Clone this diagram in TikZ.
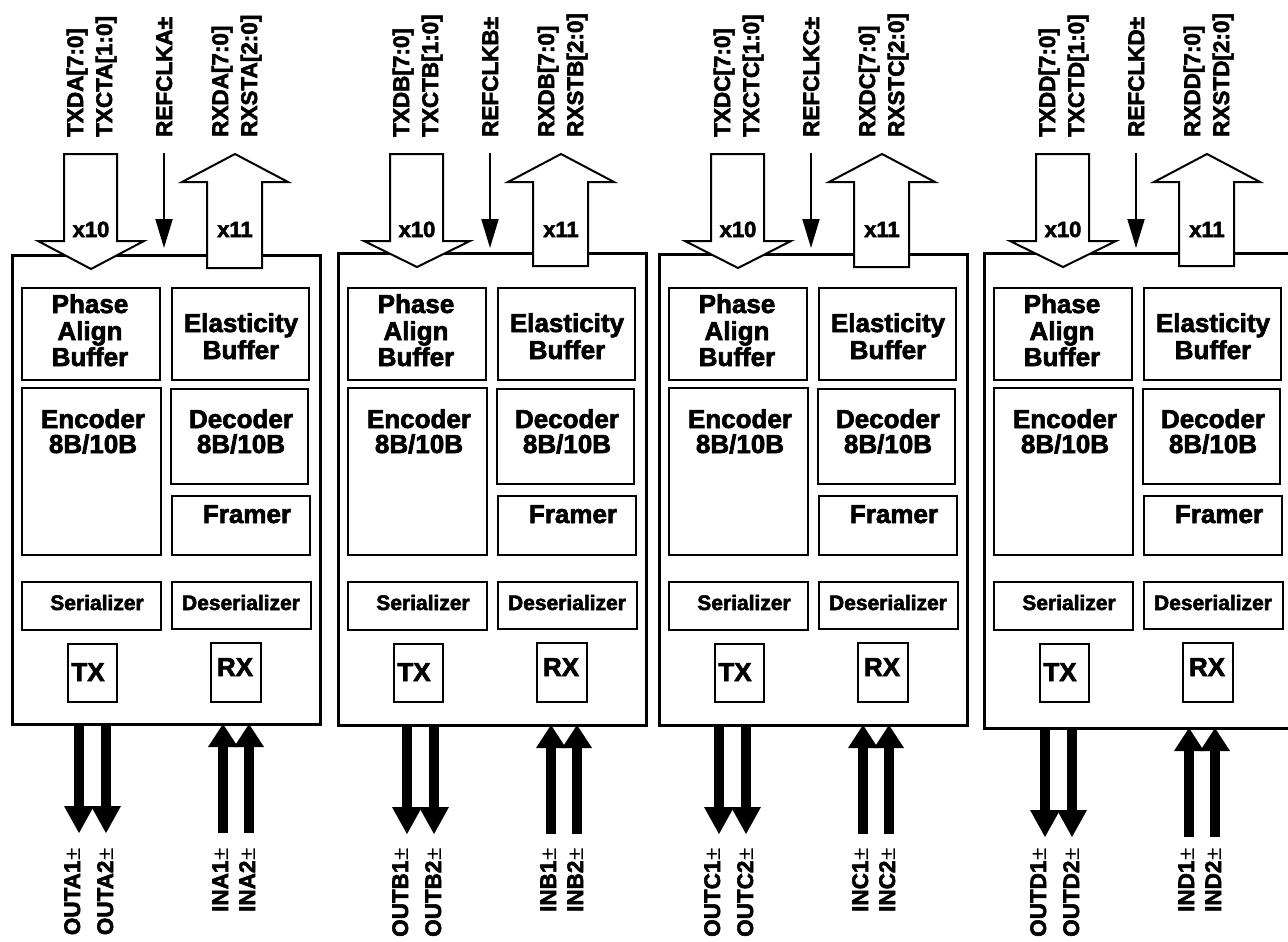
\documentclass[tikz,border=0pt]{standalone}
\usepackage{fontspec}
\setmainfont{Liberation Sans}[BoldFeatures={FakeBold=2.5}]
\usetikzlibrary{arrows.meta}
\begin{document}
\begin{tikzpicture}[x=1pt,y=-1pt,
  outerbox/.style={draw, line width=3pt, inner sep=0pt, anchor=north west},
  blk/.style={draw, line width=2pt, inner sep=0pt, anchor=north west},
  hollow/.style={draw, fill=white, line width=2pt, line join=miter},
  sigfill/.style={fill=black},
  big/.style={font=\fontsize{26}{28}\selectfont\bfseries, inner sep=0pt, anchor=base},
  mid/.style={font=\fontsize{21}{24}\selectfont\bfseries, inner sep=0pt, anchor=base},
  xl/.style={font=\fontsize{22}{24}\selectfont\bfseries, inner sep=0pt, anchor=base},
  sig/.style={font=\fontsize{22.5}{24}\selectfont\bfseries, inner sep=0pt, rotate=90},
  clk/.style={line width=2pt, -{Triangle[length=29pt,width=17pt]}},
]
\useasboundingbox (0,0) rectangle (1288,942);
\foreach \L/\c/\T/\B/\o in {11/A/254/723/0, 337/B/252/724/2, 658/C/253/724/-7, 983/D/252/727/-6} {
  \begin{scope}[xshift=\L pt]
    % outer block
    \node[outerbox, minimum width=308pt, minimum height={\B-\T}] (blk\c) at (0,\T) {};
    % inner blocks
    \node[blk, minimum width=138pt, minimum height=92pt] (pab\c) at (10,287) {};
    \node[blk, minimum width=137pt, minimum height=92pt] (eb\c) at (160,287) {};
    \node[blk, minimum width=139pt, minimum height=167pt] (enc\c) at (10,387) {};
    \node[blk, minimum width=137pt, minimum height=95pt] (dec\c) at (159,388) {};
    \node[blk, minimum width=138pt, minimum height=59pt] (fr\c) at (160,495) {};
    \node[blk, minimum width=139pt, minimum height=48pt] (ser\c) at (10,581) {};
    \node[blk, minimum width=139pt, minimum height=47pt] (des\c) at (160,581) {};
    \node[blk, minimum width=49pt, minimum height=58pt] (tx\c) at (56,643) {};
    \node[blk, minimum width=50pt, minimum height=59pt] (rx\c) at (199,642) {};
    % inner texts
    \node[big] (pabt1\c) at (79,313) {Phase};
    \node[big] (pabt2\c) at (79,340) {Align};
    \node[big] (pabt3\c) at (79,366) {Buffer};
    \node[big] (ebt1\c) at (230,332) {Elasticity};
    \node[big] (ebt2\c) at (230,359) {Buffer};
    \node[big] (enct1\c) at (82,428) {Encoder};
    \node[big] (enct2\c) at (82,453) {8B/10B};
    \node[big] (dect1\c) at (230,428) {Decoder};
    \node[big] (dect2\c) at (230,453) {8B/10B};
    \node[big] (frt\c) at (236,523) {Framer};
    \node[mid] (sert\c) at (86,610) {Serializer};
    \node[mid] (dest\c) at (230,610) {Deserializer};
    \node[big] (txt\c) at (77,681) {TX};
    \node[big] (rxt\c) at (224,676) {RX};
    % hollow bus arrows
    \draw[hollow] (53,154) -- (106,154) -- (106,241) -- (133,241) -- (80,{\T+15}) -- (27,241) -- (53,241) -- cycle;
    \node[xl] (xa\c) at (80,237) {x10};
    \draw[hollow] (196,{\T+14}) -- (196,182) -- (171,182) -- (224,154) -- (277,182) -- (251,182) -- (251,{\T+14}) -- cycle;
    \node[xl] (xb\c) at (224,237) {x11};
    % reference clock
    \coordinate (rs\c) at (153,153);
    \coordinate (re\c) at (153,248);
    \draw[clk] (rs\c) -- (re\c);
    % top labels
    \node[sig, anchor=base west] (txd\c) at (72,137) {TXD\c[7:0]};
    \node[sig, anchor=base west] (txc\c) at (101,137) {TXCT\c[1:0]};
    \node[sig, anchor=base west] (ref\c) at (161,137) {REFCLK\c±};
    \node[sig, anchor=base west] (rxd\c) at (217,137) {RXD\c[7:0]};
    \node[sig, anchor=base west] (rxs\c) at (246,137) {RXST\c[2:0]};
    % serial outputs
    \foreach \d in {68,95} {
      \fill[sigfill] ({\o+\d-5},\B) rectangle ({\o+\d+5},{\B+84});
      \fill[sigfill] ({\o+\d-15},{\B+83}) -- ({\o+\d+15},{\B+83}) -- ({\o+\d},{\B+110}) -- cycle;
    }
    % serial inputs
    \foreach \d in {212,238} {
      \fill[sigfill] ({\o+\d-5},{\B+23}) rectangle ({\o+\d+5},{\B+110});
      \fill[sigfill] ({\o+\d-15},{\B+24}) -- ({\o+\d+15},{\B+24}) -- ({\o+\d},{\B+1}) -- cycle;
    }
    % bottom labels
    \node[sig, anchor=base east] (o1\c) at ({\o+69},848) {OUT\c1{\mdseries±}};
    \node[sig, anchor=base east] (o2\c) at ({\o+102},848) {OUT\c2{\mdseries±}};
    \node[sig, anchor=base east] (i1\c) at ({\o+217},848) {IN\c1{\mdseries±}};
    \node[sig, anchor=base east] (i2\c) at ({\o+244},848) {IN\c2{\mdseries±}};
  \end{scope}
}
\end{tikzpicture}
\end{document}
